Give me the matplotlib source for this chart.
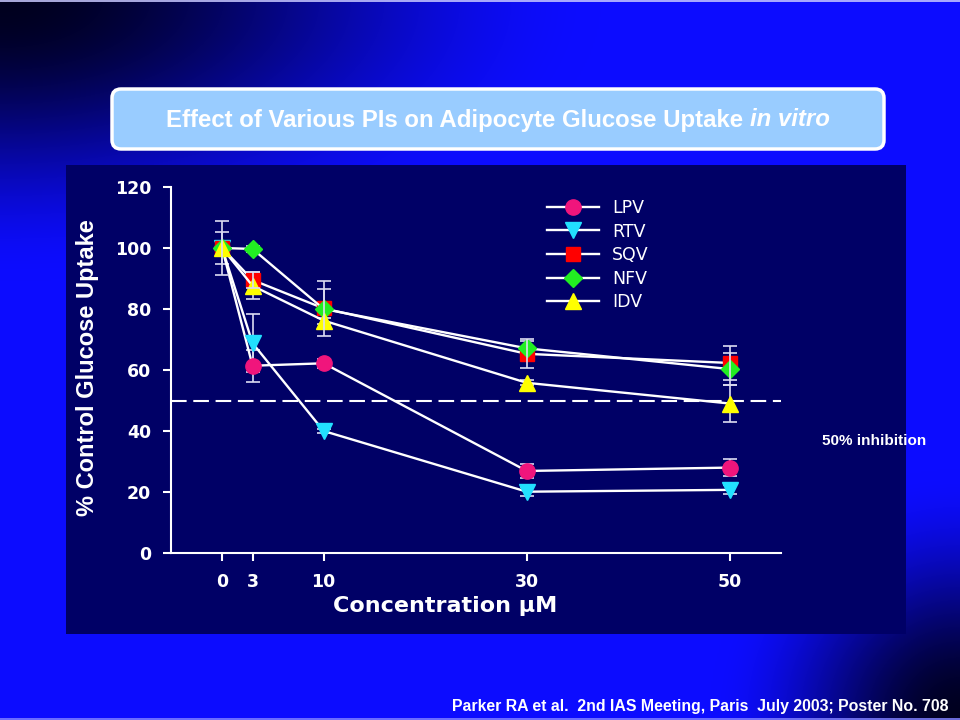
import numpy as np
import matplotlib
matplotlib.use("Agg")
import matplotlib.pyplot as plt
from matplotlib.patches import FancyBboxPatch, Rectangle
from matplotlib.font_manager import FontProperties, findfont

# ---------------- data ----------------
conc = [0, 3, 10, 30, 50]
conc_labels = ["0", "3", "10", "30", "50"]
series_names = ["LPV", "RTV", "SQV", "NFV", "IDV"]
lpv = [100, 61.4, 62.2, 26.9, 28.0]
rtv = [100, 68.8, 40.0, 20.1, 20.7]
sqv = [100, 89.5, 80.2, 65.3, 62.3]
nfv = [100, 99.7, 80.0, 67.1, 60.3]
idv = [100, 87.6, 76.2, 55.8, 49.0]
lpv_err = [5.3, 5.2, 1.5, 2.3, 2.7]
rtv_err = [2.0, 9.6, 0.8, 1.5, 1.5]
sqv_err = [8.7, 2.7, 8.9, 4.8, 5.7]
nfv_err = [2.0, 1.0, 6.5, 2.5, 5.2]
idv_err = [2.0, 4.4, 1.0, 0.8, 6.1]
threshold = 50
yticks = [0, 20, 40, 60, 80, 100, 120]
title_main = "Effect of Various PIs on Adipocyte Glucose Uptake "
title_ital = "in vitro"
ylabel = "% Control Glucose Uptake"
xlabel = "Concentration \u00b5M"
thresh_label = "50% inhibition"
citation = "Parker RA et al.  2nd IAS Meeting, Paris  July 2003; Poster No. 708"

values = [lpv, rtv, sqv, nfv, idv]
errors = [lpv_err, rtv_err, sqv_err, nfv_err, idv_err]
markers = ["o", "v", "s", "D", "^"]
msizes = [11, 11, 9.5, 9, 11]
colors = ["#f0157c", "#22e0ff", "#ff0000", "#22ee22", "#ffff00"]
err_on_top = [False, False, True, False, False]

SANS = ["Liberation Sans", "DejaVu Sans"]
try:
    findfont(FontProperties(family="Liberation Sans Narrow"), fallback_to_default=False)
    NARROW = ["Liberation Sans Narrow", "Liberation Sans", "DejaVu Sans"]
except Exception:
    NARROW = SANS

W, H = 960, 720
fig = plt.figure(figsize=(9.6, 7.2), dpi=100)

# ---------------- background ----------------
bg = fig.add_axes([0, 0, 1, 1])
bg.set_xlim(0, W)
bg.set_ylim(H, 0)
bg.axis("off")
ys, xs = np.mgrid[0:H:2, 0:W:2].astype(float) + 1
d1 = np.sqrt((xs / 600) ** 2 + (ys / 280) ** 2)
d2 = np.sqrt(((W - xs) / 250) ** 2 + ((H - ys) / 250) ** 2)
b = np.clip(np.minimum(d1, d2), 0, 1)
b = b * b * (3 - 2 * b)
img = np.dstack([0.05 * b, 0.05 * b, 0.12 + 0.88 * b])
bg.imshow(img, extent=(0, W, H, 0), aspect="auto", interpolation="bilinear", zorder=0)
bg.plot([0, W], [1, 1], color="#c8c8ff", lw=1.2, zorder=1)
bg.plot([0, W], [718.5, 718.5], color="#8080ff", lw=1.2, zorder=1)

# plot panel
bg.add_patch(Rectangle((66, 165), 840, 469, fc="#000066", ec="none", zorder=1))
# title box
bg.add_patch(FancyBboxPatch((112, 89), 772, 60, boxstyle="round,pad=0,rounding_size=9",
                            fc="#99ccff", ec="white", lw=2.5, zorder=2))

# ---------------- main axes ----------------
x0px, x1px = 171.3, 780.7
ax = fig.add_axes([x0px / W, 1 - 553 / H, (x1px - x0px) / W, (553 - 187) / H])
ax.patch.set_alpha(0)
ax.set_xlim(-5, 55)
ax.set_ylim(0, 120)
for s in ["top", "right"]:
    ax.spines[s].set_visible(False)
for s in ["left", "bottom"]:
    ax.spines[s].set_color("white")
    ax.spines[s].set_linewidth(1.5)
ax.set_xticks(conc)
ax.set_xticklabels(conc_labels)
ax.set_yticks(yticks)
ax.set_yticklabels([str(v) for v in yticks])
ax.tick_params(axis="both", colors="white", width=1.5, length=5.5, direction="out")
ax.tick_params(axis="x", pad=9)
ax.tick_params(axis="y", pad=9)
for lab in ax.get_xticklabels() + ax.get_yticklabels():
    lab.set_fontfamily(["DejaVu Sans"])
    lab.set_fontweight("bold")
    lab.set_fontsize(12.5)
    lab.set_color("white")

ax.axhline(threshold, color="white", lw=1.5, ls=(0, (7.5, 3.2)), zorder=1)

handles = []
for name, vals, errs, m, ms, c, top in zip(series_names, values, errors, markers,
                                           msizes, colors, err_on_top):
    ax.errorbar(conc, vals, yerr=errs, fmt="none", ecolor="#dcdcf2", elinewidth=1.2,
                capsize=5, capthick=1.2, zorder=6 if top else 2.5)
    h, = ax.plot(conc, vals, color="white", lw=1.7, marker=m, ms=ms, mfc=c, mec=c,
                 zorder=3, label=name)
    handles.append(h)

leg = ax.legend(handles, series_names, loc="upper left",
                bbox_to_anchor=(547 / W, 1 - 199 / H), bbox_transform=fig.transFigure,
                frameon=False, handlelength=3.0, handletextpad=0.75, labelspacing=0.32,
                borderpad=0, borderaxespad=0, numpoints=1,
                prop=FontProperties(family=["DejaVu Sans"], size=12.5))
for t in leg.get_texts():
    t.set_color("white")

# ---------------- texts ----------------
bg.text(88, 367.5, ylabel, rotation=90, ha="center", va="center", color="white",
        fontsize=17, fontweight="bold", family=SANS, zorder=5)
xl = bg.text(445, 606, xlabel, ha="center", va="center", color="white",
             fontsize=16, fontweight="bold", family=["DejaVu Sans"], zorder=5)
bg.text(874, 441, thresh_label, ha="center", va="center", color="white",
        fontsize=11, fontweight="bold", family=SANS, zorder=5)

t1 = bg.text(0, 120, title_main, ha="left", va="center", color="white",
             fontsize=13, fontweight="bold", family=NARROW, zorder=5)
t2 = bg.text(0, 120, title_ital, ha="left", va="center", color="white",
             fontsize=13, fontweight="bold", style="italic", family=NARROW, zorder=5)
cit = bg.text(948, 706, citation, ha="right", va="center", color="white",
              fontsize=11, fontweight="bold", family=NARROW, zorder=5)

fig.canvas.draw()
r = fig.canvas.get_renderer()
# fit title to span 166..830 px
w1 = t1.get_window_extent(r).width
w2 = t2.get_window_extent(r).width
scale = 664.0 / (w1 + w2)
fs = 13 * scale
t1.set_fontsize(fs)
t2.set_fontsize(fs)
fig.canvas.draw()
w1 = t1.get_window_extent(r).width
w2 = t2.get_window_extent(r).width
left = 498 - (w1 + w2) / 2
t1.set_x(left)
t2.set_x(left + w1)
# fit citation to 498 px
wc = cit.get_window_extent(r).width
cit.set_fontsize(11 * 498.0 / wc)

fig.savefig("out.png", dpi=100)
